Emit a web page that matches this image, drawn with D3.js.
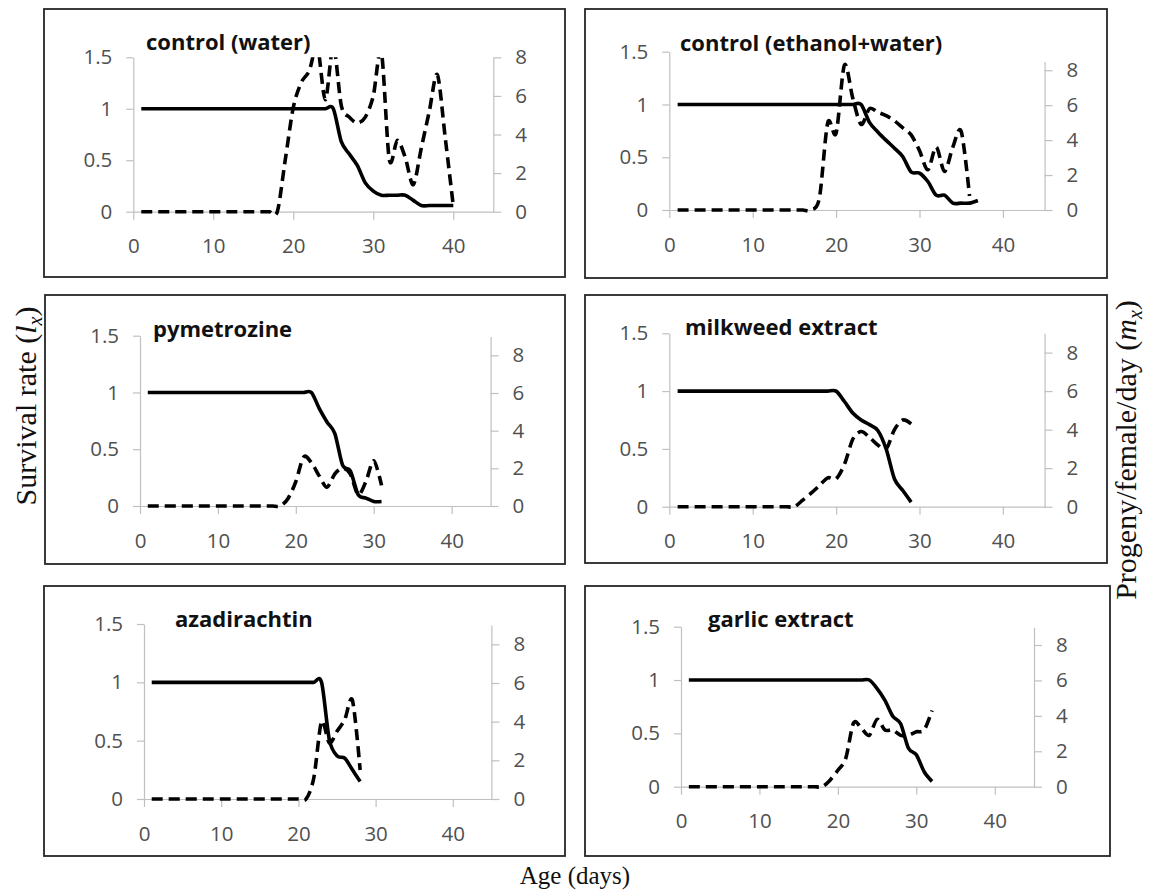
<!DOCTYPE html>
<meta charset="utf-8">
<script src="https://cdn.jsdelivr.net/npm/d3@7"></script>
<style>
body { margin:0; background:white; overflow:hidden; }
.tick text { font-family: "Open Sans", sans-serif; font-size: 20.5px; fill: #505050; }
.ptitle { font-family: "Open Sans", sans-serif; font-weight: bold; font-size: 22px; fill: #111; }
.atitle { font-family: "Liberation Serif", serif; fill: #111; }
</style>
<body>
<svg id="chart" width="1151" height="893"></svg>
<script>

// panel titles
var titles = ["control (water)", "control (ethanol+water)", "pymetrozine",
              "milkweed extract", "azadirachtin", "garlic extract"];

// tick values
var lxTicks = [0, 0.5, 1, 1.5];
var mxTicks = [0, 2, 4, 6, 8];
var ageTicks = [0, 10, 20, 30, 40];

// survival rate (lx) and progeny/female/day (mx), day 1 .. n
var waterLx = [1,1,1,1,1,1,1,1,1,1,1,1,1,1,1,1,1,1,1,1,1,1,1,1,1,
               0.68,0.56,0.45,0.28,0.2,0.16,0.16,0.16,0.16,0.11,0.06,0.06,0.06,0.06,0.06];
var waterMx = [0,0,0,0,0,0,0,0,0,0,0,0,0,0,0,0,0,0,
               2.7,5.4,6.7,7.3,8.6,5.8,8.6,5.5,4.9,4.6,4.9,6.0,8.3,2.7,3.7,2.8,1.4,3.3,5.2,7.1,3.8,0.3];

var ethLx = [1,1,1,1,1,1,1,1,1,1,1,1,1,1,1,1,1,1,1,1,1,1,1,
             0.83,0.74,0.66,0.585,0.505,0.36,0.35,0.27,0.14,0.14,0.065,0.065,0.065,0.09];
var ethMx = [0,0,0,0,0,0,0,0,0,0,0,0,0,0,0,0,0,
             0.7,5.0,4.4,8.3,6.4,4.9,5.8,5.6,5.4,5.1,4.7,4.3,3.4,2.3,3.6,2.2,3.6,4.5,0.8];

var pymLx = [1,1,1,1,1,1,1,1,1,1,1,1,1,1,1,1,1,1,1,1,1,1,
             0.86,0.74,0.64,0.36,0.31,0.1,0.07,0.04,0.04];
var pymMx = [0,0,0,0,0,0,0,0,0,0,0,0,0,0,0,0,0,0,
             0.4,1.3,2.6,2.3,1.6,1.0,1.7,2.0,1.7,0.6,1.3,2.4,1.1];

var milkLx = [1,1,1,1,1,1,1,1,1,1,1,1,1,1,1,1,1,1,1,1,
              0.91,0.81,0.75,0.71,0.66,0.5,0.24,0.14,0.04];
var milkMx = [0,0,0,0,0,0,0,0,0,0,0,0,0,0,0,
              0.34,0.7,1.1,1.5,1.45,2.2,3.5,3.9,3.6,3.2,3.0,4.0,4.5,4.3];

var azaLx = [1,1,1,1,1,1,1,1,1,1,1,1,1,1,1,1,1,1,1,1,1,1,1,
             0.51,0.37,0.35,0.25,0.15];
var azaMx = [0,0,0,0,0,0,0,0,0,0,0,0,0,0,0,0,0,0,0,0,0,
             1.1,4.0,2.9,3.5,4.1,5.1,1.5];

var garLx = [1,1,1,1,1,1,1,1,1,1,1,1,1,1,1,1,1,1,1,1,1,1,1,1,
             0.92,0.81,0.66,0.59,0.36,0.3,0.14,0.05];
var garMx = [0,0,0,0,0,0,0,0,0,0,0,0,0,0,0,0,0,0,
             0.37,0.93,1.6,3.6,3.3,2.9,3.8,3.2,3.2,2.9,2.9,3.1,3.2,4.3];

var lxSeries = [waterLx, ethLx, pymLx, milkLx, azaLx, garLx];
var mxSeries = [waterMx, ethMx, pymMx, milkMx, azaMx, garMx];
var mxMax = [8, 8.5, 9, 9, 9, 9];

// where each pasted panel sits on the page (pixels)
var layout = [
  {box:[44,9,565,277],   x0:133.3, x1:493.3,  y0:211.7, yl:57.3,  yr:57.3,  tx:146, ty:49.5},
  {box:[585,9,1107,278], x0:669.3, x1:1044.6, y0:210,   yl:51.7,  yr:61.5,  tx:680, ty:50.5},
  {box:[45,295,565,564], x0:140,   x1:490.6,  y0:506,   yl:335.7, yr:336.5, tx:153, ty:336.5},
  {box:[585,295,1107,563],x0:669.3,x1:1044.6, y0:506.7, yl:333.3, yr:333.3, tx:685, ty:335},
  {box:[44,586,565,856], x0:144,   x1:491.4,  y0:799,   yl:624,   yr:625,   tx:175, ty:627},
  {box:[585,586,1110,856],x0:681, x1:1034,   y0:786.7, yl:626.7, yr:627.3, tx:708, ty:627}
];

var svg = d3.select("#chart");

layout.forEach(function(p, i) {
  var g = svg.append("g");

  g.append("rect")
    .attr("x", p.box[0]).attr("y", p.box[1])
    .attr("width", p.box[2] - p.box[0]).attr("height", p.box[3] - p.box[1])
    .attr("fill", "white").attr("stroke", "#262626").attr("stroke-width", 1.8);

  var x = d3.scaleLinear().domain([0, 45]).range([p.x0, p.x1]);
  var yl = d3.scaleLinear().domain([0, 1.5]).range([p.y0, p.yl]);
  var yr = d3.scaleLinear().domain([0, mxMax[i]]).range([p.y0, p.yr]);

  var xAxis = g.append("g").attr("transform", "translate(0," + p.y0 + ")")
    .call(d3.axisBottom(x).tickValues(ageTicks).tickSize(8).tickSizeOuter(0).tickPadding(19));
  var lAxis = g.append("g").attr("transform", "translate(" + p.x0 + ",0)")
    .call(d3.axisLeft(yl).tickValues(lxTicks).tickSize(7).tickSizeOuter(0).tickPadding(14)
      .tickFormat(function(d) { return String(d); }));
  var rAxis = g.append("g").attr("transform", "translate(" + p.x1 + ",0)")
    .call(d3.axisRight(yr).tickValues(mxTicks).tickSize(8).tickSizeOuter(0).tickPadding(14));

  [xAxis, lAxis, rAxis].forEach(function(a) {
    a.selectAll("path, line").attr("stroke", "#c0c0c0").attr("stroke-width", 1.2);
  });

  g.append("text").attr("class", "ptitle")
    .attr("x", p.tx).attr("y", p.ty).text(titles[i]);

  var clipId = "clip" + i;
  g.append("clipPath").attr("id", clipId).append("rect")
    .attr("x", p.x0 - 6).attr("y", Math.min(p.yl, p.yr))
    .attr("width", p.x1 - p.x0 + 12).attr("height", p.y0 - Math.min(p.yl, p.yr) + 6);

  var plot = g.append("g").attr("clip-path", "url(#" + clipId + ")");

  var lineL = d3.line()
    .x(function(d, k) { return x(k + 1); })
    .y(function(d) { return yl(d); })
    .curve(d3.curveCardinal.tension(0.1));
  var lineR = d3.line()
    .x(function(d, k) { return x(k + 1); })
    .y(function(d) { return yr(d); })
    .curve(d3.curveCardinal.tension(0.1));

  plot.append("path").datum(mxSeries[i])
    .attr("d", lineR).attr("fill", "none").attr("stroke", "#000")
    .attr("stroke-width", 3.6).attr("stroke-dasharray", "11,6");

  plot.append("path").datum(lxSeries[i])
    .attr("d", lineL).attr("fill", "none").attr("stroke", "#000")
    .attr("stroke-width", 3.6).attr("stroke-linejoin", "round");
});

// shared axis titles
var sv = svg.append("text").attr("class", "atitle").attr("font-size", 30)
  .attr("text-anchor", "middle").attr("transform", "translate(36,406) rotate(-90)");
sv.append("tspan").text("Survival rate (");
sv.append("tspan").attr("font-style", "italic").text("l");
sv.append("tspan").attr("font-style", "italic").attr("font-size", 20).attr("dy", 6).text("x");
sv.append("tspan").attr("dy", -6).text(")");

var pr = svg.append("text").attr("class", "atitle").attr("font-size", 30)
  .attr("text-anchor", "middle").attr("transform", "translate(1136,450) rotate(-90)");
pr.append("tspan").text("Progeny/female/day (");
pr.append("tspan").attr("font-style", "italic").text("m");
pr.append("tspan").attr("font-style", "italic").attr("font-size", 20).attr("dy", 6).text("x");
pr.append("tspan").attr("dy", -6).text(")");

svg.append("text").attr("class", "atitle").attr("font-size", 25)
  .attr("text-anchor", "middle").attr("x", 575).attr("y", 884).text("Age (days)");

</script>
</body>
